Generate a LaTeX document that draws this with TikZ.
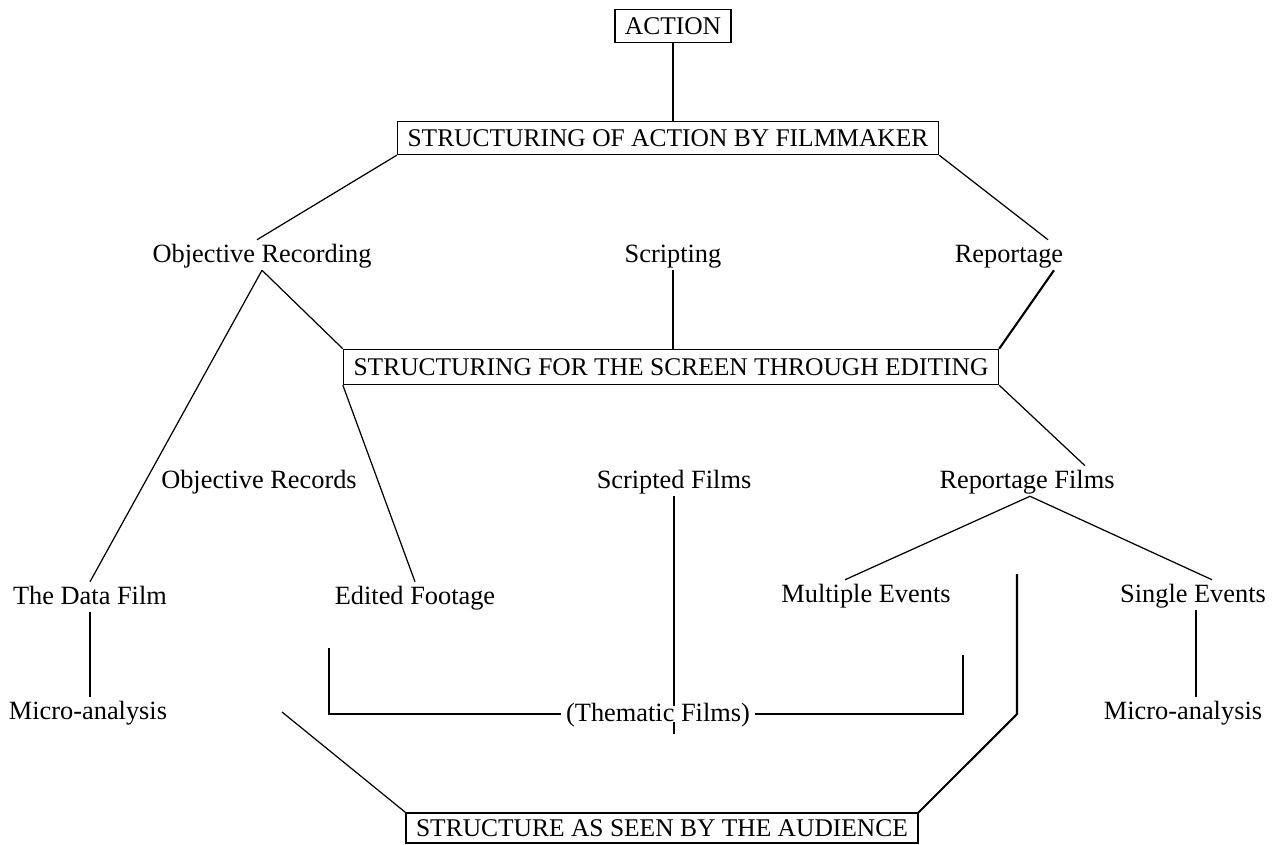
\documentclass[tikz,border=0pt]{standalone}
\usepackage{fontspec}
\setmainfont{Liberation Serif}
\usetikzlibrary{calc}

\begin{document}
\begin{tikzpicture}[x=0.2mm,y=-0.2mm,
  lbl/.style={font=\fontsize{15}{18}\selectfont, inner xsep=0.8mm, inner ysep=1.4mm, text height=0.9em, text depth=0em},
  stage/.style={draw, line width=0.8pt, font=\fontsize{14.5}{17}\selectfont, inner xsep=2mm, inner ysep=0pt, minimum height=6.6mm, text height=0.92em, text depth=0em},
  link/.style={line width=0.7pt},
  bold/.style={line width=1.2pt}]
\useasboundingbox (0,0) rectangle (1272,844);
% Stages (boxed)
\node[stage] (act) at (673,26) {ACTION};
\node[stage] (sof) at (668,138) {STRUCTURING OF ACTION BY FILMMAKER};
\node[stage, minimum height=7mm] (sfs) at (671,367) {STRUCTURING FOR THE SCREEN THROUGH EDITING};
\node[stage, minimum height=6mm] (ssa) at (662,828) {STRUCTURE AS SEEN BY THE AUDIENCE};
% First row
\node[lbl] (orec) at (262,255) {Objective Recording};
\node[lbl] (scr) at (673,255) {Scripting};
\node[lbl] (rep) at (1009,255) {Reportage};
% Second row
\node[lbl] (orecs) at (259,481) {Objective Records};
\node[lbl] (sfilm) at (674,481) {Scripted Films};
\node[lbl] (rfilm) at (1027,481) {Reportage Films};
% Third row
\node[lbl] (data) at (90,597) {The Data Film};
\node[lbl] (edit) at (415,597) {Edited Footage};
\node[lbl] (multi) at (866,595) {Multiple Events};
\node[lbl] (single) at (1193,595) {Single Events};
% Fourth row
\node[lbl] (microl) at (88,712) {Micro-analysis};
\node[lbl, inner ysep=0pt, inner xsep=1mm] (them) at (658,714) {(Thematic Films)};
\node[lbl] (micror) at (1183,712) {Micro-analysis};
% Filmmaker
\draw[link] (act.south) -- (act.south |- sof.north);
\draw[link] (sof.south west) -- ($(orec.north)+(-5,0)$);
\draw[link] (sof.south east) -- ($(rep.north)+(39,0)$);
% Into editing
\draw[link] (orec.south) -- (sfs.north west);
\draw[bold] (scr.south) -- (scr.south |- sfs.north);
\draw[bold] ($(rep.south)+(45,0)$) -- (sfs.north east);
% Objective records
\draw[link] (orec.south) -- (data.north);
\draw[link] (sfs.south west) -- (edit.north);
% Reportage films
\draw[link] (sfs.south east) -- ($(rfilm.north)+(58,0)$);
\draw[link] ($(rfilm.south)+(3,0)$) -- ($(multi.north)+(-21,0)$);
\draw[link] ($(rfilm.south)+(3,0)$) -- ($(single.north)+(19,0)$);
% Micro-analysis
\draw[bold] (data.south) -- (data.south |- microl.north);
\draw[bold] ($(single.south)+(3,0)$) -- ($(single.south |- micror.north)+(3,0)$);
% Thematic films
\coordinate (brl) at (329,648);
\coordinate (brr) at (963,655);
\draw[link] (brl) -- (brl |- them.west) -- (them.west);
\draw[link] (them.east) -- (brr |- them.east) -- (brr);
\draw[bold] (sfilm.south) -- (sfilm.south |- them.north);
\draw[link] (sfilm.south |- them.south) -- ++(0,12);
% Audience
\coordinate (lft) at (282,712);
\coordinate (rgt) at (1017,574);
\coordinate (rbend) at (1017,714);
\draw[link] (lft) -- (ssa.north west);
\draw[bold] (rgt) -- (rbend) -- (ssa.north east);
\end{tikzpicture}
\end{document}
